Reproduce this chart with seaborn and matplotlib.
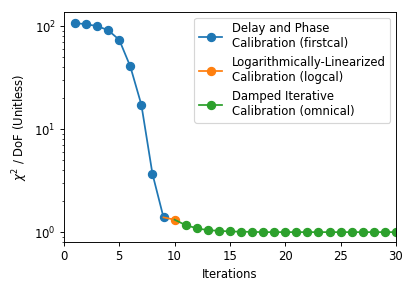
import matplotlib
matplotlib.use("Agg")
import matplotlib.pyplot as plt
import seaborn as sns

# chi^2 / DoF per iteration
firstcal_iter = [1, 2, 3, 4, 5, 6, 7, 8, 9]
firstcal_chisq = [107, 104, 100, 91, 73.5, 40.5, 17.2, 3.68, 1.39]

logcal_iter = [9, 10]
logcal_chisq = [1.39, 1.32]

omnical_iter = list(range(10, 31))
omnical_chisq = [1.32, 1.17, 1.09, 1.045, 1.03, 1.015, 1.01, 1.005, 1.0, 1.0,
                 1.0, 1.0, 1.0, 1.0, 1.0, 1.0, 1.0, 1.0, 1.0, 1.0, 1.0]

labels = ["Delay and Phase\nCalibration (firstcal)",
          "Logarithmically-Linearized\nCalibration (logcal)",
          "Damped Iterative\nCalibration (omnical)"]
colors = ["#1f77b4", "#ff7f0e", "#2ca02c"]

# figure was drawn larger and shrunk, so render at a lower dpi
dpi = 84
fig = plt.figure(figsize=(415 / dpi, 291 / dpi), dpi=dpi)
ax = fig.add_axes([0.154, 0.168, 0.800, 0.791])

series = [(firstcal_iter, firstcal_chisq, None),
          (logcal_iter, logcal_chisq, [1]),
          (omnical_iter, omnical_chisq, list(range(1, len(omnical_iter))))]
for (x, y, every), lab, c in zip(series, labels, colors):
    sns.lineplot(x=x, y=y, ax=ax, color=c, marker="o", markersize=7,
                 markeredgecolor=c, markeredgewidth=1, linewidth=1.5,
                 markevery=every, label=lab)

ax.set_yscale("log")
ax.set_xlim(0, 30)
ax.set_ylim(0.8, 137)
ax.set_xlabel("Iterations")
ax.set_ylabel(r"$\chi^2$ / DoF (Unitless)")
ax.legend(loc="upper right")

fig.savefig("out.png", dpi=dpi)
